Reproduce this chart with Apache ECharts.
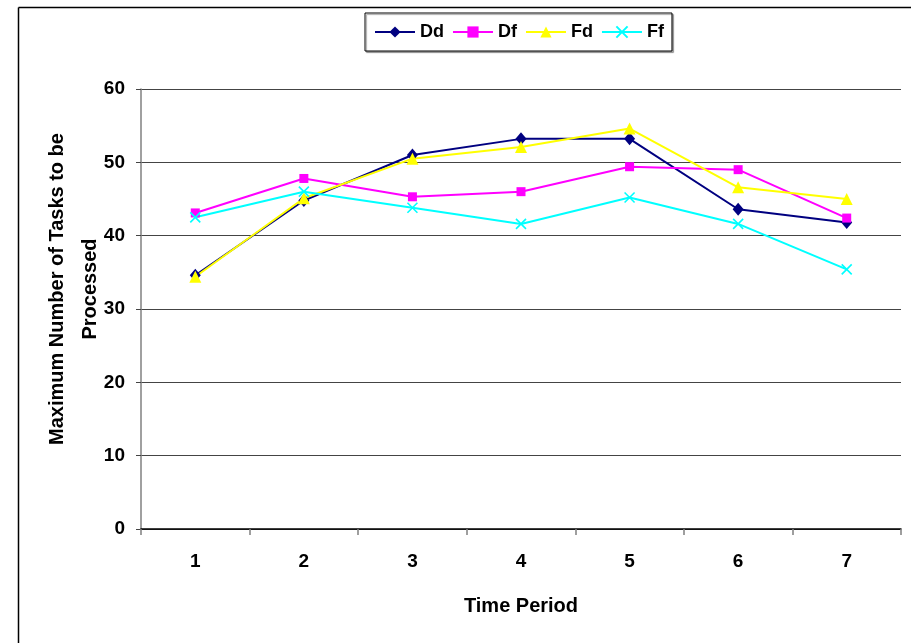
<!DOCTYPE html>
<html>
<head>
<meta charset="utf-8">
<script src="https://cdn.jsdelivr.net/npm/echarts@6/dist/echarts.min.js"></script>
<style>
  html, body { margin: 0; padding: 0; background: #fff; }
  #chart { width: 911px; height: 643px; }
</style>
</head>
<body>
<div id="chart"></div>
<script>
// Time periods on the x axis
var periods = ['1', '2', '3', '4', '5', '6', '7'];

// Maximum number of tasks to be processed, per scheme
var seriesNames = ['Dd', 'Df', 'Fd', 'Ff'];
var dd = [34.6, 44.8, 51.0, 53.2, 53.2, 43.6, 41.8];
var df = [43.1, 47.8, 45.3, 46.0, 49.4, 49.0, 42.4];
var fd = [34.4, 45.1, 50.5, 52.1, 54.6, 46.6, 45.0];
var ff = [42.5, 46.0, 43.8, 41.6, 45.2, 41.6, 35.4];

var yTicks = { min: 0, max: 60, interval: 10 };

var font = "'Liberation Sans', Arial, sans-serif";

var crossPath = 'path://M0,0L10,10M10,0L0,10';

function lineSeries(name, data, color, symbol, size, extra) {
  var s = {
    name: name,
    type: 'line',
    data: data,
    symbol: symbol,
    symbolSize: size,
    showAllSymbol: true,
    lineStyle: { color: color, width: 2 },
    itemStyle: { color: color },
    emphasis: { disabled: true },
    z: 3
  };
  if (extra) { s.itemStyle = Object.assign(s.itemStyle, extra); }
  return s;
}

var chart = echarts.init(document.getElementById('chart'), null, { renderer: 'canvas' });

chart.setOption({
  backgroundColor: '#ffffff',
  animation: false,
  grid: { left: 141, right: 10, top: 89, bottom: 114, containLabel: false },
  legend: {
    data: seriesNames,
    left: 365,
    top: 13,
    padding: [10, 8, 10, 9],
    itemWidth: 40,
    itemHeight: 14,
    itemGap: 8,
    borderColor: '#000',
    borderWidth: 1,
    backgroundColor: '#fff',
    shadowColor: 'rgba(0,0,0,0.35)',
    shadowOffsetX: 1.5,
    shadowOffsetY: 1.5,
    shadowBlur: 1,
    textStyle: { fontFamily: font, fontWeight: 'bold', fontSize: 18, color: '#000' }
  },
  xAxis: {
    type: 'category',
    data: periods,
    boundaryGap: true,
    name: 'Time Period',
    nameLocation: 'middle',
    nameGap: 67,
    nameTextStyle: { fontFamily: font, fontWeight: 'bold', fontSize: 20, color: '#000' },
    axisLine: { lineStyle: { color: '#000', width: 1.5 } },
    axisTick: { show: true, alignWithLabel: false, length: 6, lineStyle: { color: '#808080', width: 1.5 } },
    axisLabel: { margin: 23, fontFamily: font, fontWeight: 'bold', fontSize: 19, color: '#000' },
    splitLine: { show: false }
  },
  yAxis: {
    type: 'value',
    min: yTicks.min,
    max: yTicks.max,
    interval: yTicks.interval,
    axisLine: { show: true, lineStyle: { color: '#808080', width: 1.5 } },
    axisTick: { show: true, length: 5, lineStyle: { color: '#444', width: 1 } },
    axisLabel: { margin: 16, fontFamily: font, fontWeight: 'bold', fontSize: 19, color: '#000' },
    splitLine: { show: true, lineStyle: { color: '#444', width: 1.2 } }
  },
  graphic: [
    // frame around the chart area (top and left edges)
    { type: 'line', shape: { x1: 18.5, y1: 7.5, x2: 911, y2: 7.5 }, style: { stroke: '#000', lineWidth: 1.5 }, z: 10 },
    { type: 'line', shape: { x1: 18.5, y1: 7.5, x2: 18.5, y2: 643 }, style: { stroke: '#000', lineWidth: 1.5 }, z: 10 },
    // y axis title, two lines, reading bottom to top
    {
      type: 'text',
      x: 74,
      y: 289,
      rotation: Math.PI / 2,
      style: {
        text: 'Maximum Number of Tasks to be\nProcessed',
        font: 'bold 20px ' + font,
        fill: '#000',
        align: 'center',
        verticalAlign: 'middle',
        lineHeight: 33
      },
      z: 10
    }
  ],
  series: [
    lineSeries('Dd', dd, '#000080', 'diamond', [11, 13]),
    lineSeries('Df', df, '#FF00FF', 'rect', 9),
    lineSeries('Fd', fd, '#FFFF00', 'triangle', 12),
    lineSeries('Ff', ff, '#00FFFF', crossPath, 10, { borderColor: '#00FFFF', borderWidth: 1.6 })
  ]
});
</script>
</body>
</html>
